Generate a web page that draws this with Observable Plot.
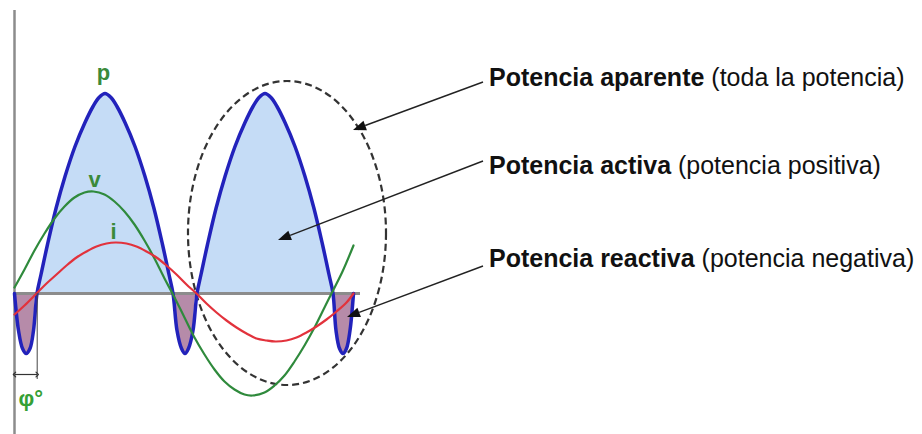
<!DOCTYPE html>
<html>
<head>
<meta charset="utf-8">
<script src="https://cdn.jsdelivr.net/npm/d3@7"></script>
<script src="https://cdn.jsdelivr.net/npm/@observablehq/plot@0.6"></script>
<style>
  html, body { margin: 0; padding: 0; background: #ffffff; }
  #chart svg { display: block; }
</style>
</head>
<body>
<div id="chart"></div>
<script>
// ---- Data (t = time, arbitrary units; values arbitrary units) ----
// Instantaneous power p
const pT   = [0, 4, 8, 11.7, 15.5, 19, 22.5,
              26.5, 33, 41.5, 50.5, 60.5, 70.5, 78.5, 84.5, 90.5, 96.5, 102.5, 110.5, 120.5, 130.5, 139.5, 148, 154.5, 158.5,
              162.5, 167, 170.5, 174, 178.5, 182.5,
              186.5, 193, 201.5, 210.5, 220.5, 230.5, 238.5, 244.5, 250.5, 256.5, 262.5, 270.5, 280.5, 290.5, 299.5, 308, 314.5, 318.5,
              321.5, 325, 328.5, 332, 335.5, 339];
const pVal = [0, -37, -55, -60, -55, -37, 0,
              19, 49, 85, 117, 147, 171, 187, 196, 200, 196, 187, 171, 147, 117, 85, 49, 19, 0,
              -37, -55, -60, -55, -37, 0,
              19, 49, 85, 117, 147, 171, 187, 196, 200, 196, 187, 171, 147, 117, 85, 49, 19, 0,
              -37, -55, -60, -55, -37, 0];
// Voltage v
const vT   = [0, 10, 20, 30, 40, 50, 60, 70, 79, 90, 100, 110, 120, 130, 140, 150, 158,
              170, 180, 190, 200, 210, 220, 230, 238, 250, 260, 270, 280, 290, 300, 310, 317, 328, 339];
const vVal = [6, 24, 43, 60, 75, 87, 96, 101, 102, 99, 92, 82, 69, 53, 35, 15, 0,
              -24, -44, -61, -76, -88, -96, -101, -102, -99, -92, -82, -68, -52, -34, -14, 0, 22, 48];
// Current i
const iT   = [0, 10, 22, 32, 42, 52, 62, 72, 82, 92, 101, 112, 122, 132, 142, 152, 162, 172, 182,
              192, 202, 212, 222, 232, 242, 252, 261, 272, 282, 292, 302, 312, 322, 332, 339];
const iVal = [-21, -12, 0, 10, 19, 28, 36, 42, 47, 50, 51, 50, 47, 42, 36, 28, 19, 9, 0,
              -10, -19, -27, -34, -40, -45, -47, -48, -47, -44, -39, -33, -26, -18, -9, 0];

// Curve labels
const curveLabels = ["p", "v", "i"];
const curveLabelT = [89, 80, 99];
const curveLabelY = [221, 114, 62];

// Annotations (bold part, regular part)
const noteBold    = ["Potencia aparente", "Potencia activa", "Potencia reactiva"];
const noteRegular = [" (toda la potencia)", " (potencia positiva)", " (potencia negativa)"];
const noteT = [475, 475, 475];
const noteY = [207, 119, 26];

// Arrows: from text to target
const arrowT1 = [469, 469, 469];
const arrowY1 = [211, 132, 27];
const arrowT2 = [339, 264, 333];
const arrowY2 = [163, 53, -24];

// Dashed ellipse enclosing one period
const ellipseCenter = [273, 60];
const ellipseRadii  = [99, 152];

// Axes extents and phase marker
const axisT = [0, 346];
const axisY = [283, -141];
const phiT  = [0, 22.7];
const phiY  = -81;
const phiLabel = "φ°";

// ---- Build tables ----
const pData = pT.map((t, k) => ({t, p: pVal[k]}));
const vData = vT.map((t, k) => ({t, v: vVal[k]}));
const iData = iT.map((t, k) => ({t, i: iVal[k]}));
const labelData = curveLabels.map((s, k) => ({s, t: curveLabelT[k], y: curveLabelY[k]}));
const arrowData = arrowT1.map((t1, k) => ({t1, y1: arrowY1[k], t2: arrowT2[k], y2: arrowY2[k]}));
const noteData = noteBold.map((b, k) => ({b, r: noteRegular[k], t: noteT[k], y: noteY[k]}));

const NS = "http://www.w3.org/2000/svg";
const el = (name, attrs) => {
  const e = document.createElementNS(NS, name);
  for (const k in attrs) e.setAttribute(k, attrs[k]);
  return e;
};

const ellipseMark = (index, scales) => {
  const cx = scales.x(ellipseCenter[0]), cy = scales.y(ellipseCenter[1]);
  const rx = scales.x(ellipseCenter[0] + ellipseRadii[0]) - cx;
  const ry = cy - scales.y(ellipseCenter[1] + ellipseRadii[1]);
  return el("ellipse", {cx, cy, rx, ry, fill: "none", stroke: "#333333",
    "stroke-width": 2.2, "stroke-dasharray": "7 4"});
};

const arrowMark = (index, scales) => {
  const g = el("g", {});
  for (const a of arrowData) {
    const x1 = scales.x(a.t1), y1 = scales.y(a.y1), x2 = scales.x(a.t2), y2 = scales.y(a.y2);
    const dx = x2 - x1, dy = y2 - y1, L = Math.hypot(dx, dy), ux = dx / L, uy = dy / L;
    const hl = 13, hw = 5;
    const bx = x2 - ux * hl, by = y2 - uy * hl;
    g.appendChild(el("line", {x1, y1, x2: bx, y2: by, stroke: "#222", "stroke-width": 1.4}));
    g.appendChild(el("polygon", {
      points: `${x2},${y2} ${bx - uy * hw},${by + ux * hw} ${bx + uy * hw},${by - ux * hw}`,
      fill: "#111"}));
  }
  return g;
};

const noteMark = (index, scales) => {
  const g = el("g", {"font-family": "'Liberation Sans', Arial, sans-serif", "font-size": 25,
    fill: "#111", "text-anchor": "start"});
  for (const n of noteData) {
    const t = el("text", {x: scales.x(n.t), y: scales.y(n.y), "text-anchor": "start"});
    const b = el("tspan", {"font-weight": "bold"}); b.textContent = n.b;
    const r = el("tspan", {"font-weight": "normal"}); r.textContent = n.r;
    t.appendChild(b); t.appendChild(r);
    g.appendChild(t);
  }
  return g;
};

const curve = "catmull-rom";

const chart = Plot.plot({
  width: 922,
  height: 434,
  margin: 0,
  style: {background: "#ffffff", fontFamily: "'Liberation Sans', Arial, sans-serif"},
  x: {domain: [-14, 908], axis: null},
  y: {domain: [-141, 293], axis: null},
  marks: [
    Plot.areaY(pData, {x: "t", y1: d => 0, y2: d => Math.max(0, d.p), fill: "#c5dcf6", curve}),
    Plot.areaY(pData, {x: "t", y1: d => 0, y2: d => Math.min(0, d.p), fill: "#b68ba9", curve}),
    Plot.ruleY([0], {x1: axisT[0], x2: axisT[1], stroke: "#8c8c8c", strokeWidth: 3}),
    Plot.ruleX([0], {y1: axisY[0], y2: axisY[1], stroke: "#8c8c8c", strokeWidth: 2.5}),
    ellipseMark,
    Plot.line(pData, {x: "t", y: "p", stroke: "#2222bb", strokeWidth: 3.5, curve}),
    Plot.line(vData, {x: "t", y: "v", stroke: "#2f8a3c", strokeWidth: 2.2, curve}),
    Plot.line(iData, {x: "t", y: "i", stroke: "#e2323c", strokeWidth: 2.2, curve}),
    // phase marker
    Plot.ruleX([phiT[1]], {y1: 0, y2: phiY - 5, stroke: "#444", strokeWidth: 1}),
    Plot.link([0], {x1: phiT[0], x2: phiT[1], y1: phiY, y2: phiY, stroke: "#333", strokeWidth: 1.2,
      markerStart: "arrow-reverse", markerEnd: "arrow"}),
    Plot.text([phiLabel], {x: 4, y: -105, text: d => d, textAnchor: "start", fill: "#35a035",
      fontSize: 22, fontWeight: "bold"}),
    Plot.text(labelData, {x: "t", y: "y", text: "s", fill: "#3a8a3a", fontSize: 22, fontWeight: "bold"}),
    arrowMark,
    noteMark
  ]
});

document.getElementById("chart").appendChild(chart);
</script>
</body>
</html>
